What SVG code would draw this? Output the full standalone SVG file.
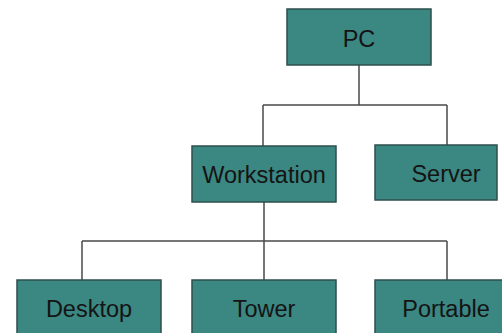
<svg xmlns="http://www.w3.org/2000/svg" width="502" height="333" viewBox="0 0 502 333">
<style>
.box{fill:#3b8782;stroke:#2e4f4d;stroke-width:1.5}
.lbl{font-family:"Liberation Sans",Arial,sans-serif;font-size:23.5px;fill:#141414;text-anchor:middle}
.ln{fill:none;stroke:#4a4a4a;stroke-width:1.5}
</style>
<rect width="502" height="333" fill="#ffffff"/>
<g id="connectors">
<path class="ln" d="M359 65 V105 M263 105 H447 M263 105 V146 M447 105 V145"/>
<path class="ln" d="M264 202 V241 M82 241 H447 M82 241 V280 M264 241 V280 M447 241 V280"/>
</g>
<g id="pc"><rect class="box" x="287" y="9" width="144" height="56"/><text class="lbl" x="359" y="47">PC</text></g>
<g id="workstation"><rect class="box" x="192" y="146" width="144" height="56"/><text class="lbl" x="264" y="183">Workstation</text></g>
<g id="server"><rect class="box" x="375" y="145" width="122" height="55"/><text class="lbl" x="446" y="182">Server</text></g>
<g id="desktop"><rect class="box" x="17" y="280" width="144" height="60"/><text class="lbl" x="89" y="317">Desktop</text></g>
<g id="tower"><rect class="box" x="192" y="280" width="144" height="60"/><text class="lbl" x="264" y="317">Tower</text></g>
<g id="portable"><rect class="box" x="375" y="280" width="130" height="60"/><text class="lbl" x="446" y="317">Portable</text></g>
</svg>
